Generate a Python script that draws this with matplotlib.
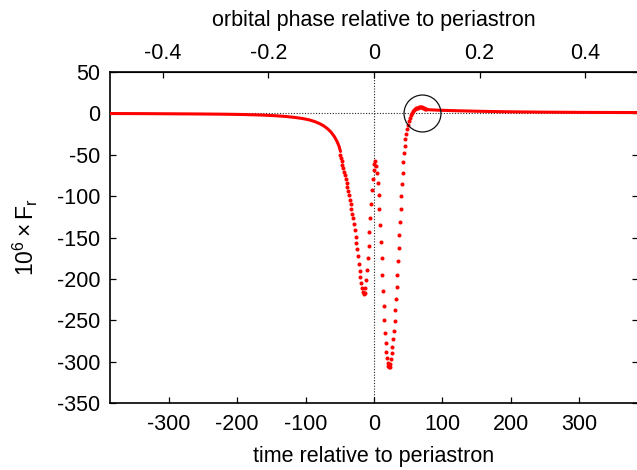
import matplotlib
matplotlib.use("Agg")
import matplotlib.pyplot as plt
import numpy as np

plt.rcParams['font.family'] = ['Liberation Sans', 'DejaVu Sans']
plt.rcParams['mathtext.fontset'] = 'custom'
plt.rcParams['mathtext.rm'] = 'Liberation Sans'
plt.rcParams['mathtext.it'] = 'Liberation Sans'

# orbital period (time units) and time axis range
period = 772.0
t_min, t_max = -386.0, 386.0

# smooth wings of the curve (dots merge into a solid line there)
t_left = [-386, -340, -300, -260, -220, -190, -165, -145, -128, -115, -104,
          -95, -87, -80, -74, -68, -63, -58, -54, -51, -49]
f_left = [-0.2, -0.3, -0.5, -0.7, -1.0, -1.4, -2.0, -2.8, -3.8, -5.0, -6.3,
          -7.8, -9.8, -12.2, -14.8, -18.5, -22.5, -28, -34, -40, -46]

t_right = [76, 80, 85, 90, 100, 120, 150, 180, 220, 260, 300, 340, 386]
f_right = [5.0, 4.4, 4.2, 4.0, 3.7, 3.2, 2.6, 2.1, 1.7, 1.4, 1.2, 1.1, 1.0]

# individual sample points through the periastron passage
t_dots = [-49.8, -48.6, -47.4, -46.2,
          -45.0, -43.8, -42.6, -41.4, -40.2, -39.0, -37.8, -36.6, -35.4, -34.2,
          -33.0, -31.8, -30.6, -29.4, -28.2, -27.0, -25.8, -24.6, -23.4, -22.2,
          -21.0, -19.8, -18.6, -17.4, -16.2, -15.0, -13.8, -12.6, -11.4, -10.2,
          -9.0, -7.8, -6.6, -5.4, -4.2, -3.0, -1.8, -0.6, 0.6, 1.8,
          3.2, 4.4, 5.6, 6.8, 7.9, 9.0, 10.1, 11.2, 12.2, 13.2,
          14.2, 15.1, 16.1, 17.1, 18.1, 19.0, 20.0, 21.0, 22.0, 23.0,
          24.0, 25.0, 26.0, 27.0, 28.0, 29.0, 30.0, 31.0, 32.0, 33.0,
          34.0, 35.0, 36.0, 37.0, 38.0, 39.0, 40.0, 41.0, 42.0, 43.0,
          44.0, 45.0, 46.0, 47.0, 48.0, 49.3, 50.8, 52.2, 53.7, 55.2,
          56.7, 58.2, 59.7, 61.2, 62.7, 64.2, 65.7, 67.2, 68.7, 70.2,
          71.7, 73.2, 74.7, 76.2]
f_dots = [-50, -54, -58, -62,
          -66, -70.5, -75, -79.5, -84, -88.5, -93.5, -99, -104.5, -110,
          -115.5, -121, -127, -134, -141.5, -149, -156.5, -164, -172.5, -181.5,
          -190, -197.5, -205, -211.5, -216, -218.5, -216.5, -210.5, -201, -189,
          -175, -160, -143, -126, -109, -93, -79, -68, -61, -58,
          -63, -72, -84, -99, -116, -135, -155, -175, -195, -214.5,
          -233, -249.5, -265, -278, -288, -296, -302, -305.5, -307, -306,
          -302.5, -297, -290, -282, -273, -263, -251, -238, -224, -210,
          -195, -179, -163, -147, -131, -115, -100, -85, -72, -59,
          -48, -39, -31, -24.5, -19, -14, -9.5, -5.5, -2, 0.8,
          2.8, 4.3, 5.3, 6.0, 6.5, 6.9, 7.2, 7.4, 7.5, 7.4,
          7.0, 6.3, 5.6, 5.0]

phase_ticks = [-0.4, -0.2, 0, 0.2, 0.4]
time_ticks = [-300, -200, -100, 0, 100, 200, 300]
y_ticks = [-350, -300, -250, -200, -150, -100, -50, 0, 50]

fig = plt.figure(figsize=(6.37, 4.70), dpi=100)
ax = fig.add_axes([110 / 637, 1 - 403 / 470, 528 / 637, 331 / 470])

red = '#ff0000'
fs = 15.5
ax.axhline(0, color='#222222', ls=(0, (1, 1.5)), lw=0.8, zorder=1)
ax.axvline(0, color='#222222', ls=(0, (1, 1.5)), lw=0.8, zorder=1)
ax.plot(t_left, f_left, '-', color=red, lw=2.2, zorder=3, solid_capstyle='round')
ax.plot(t_right, f_right, '-', color=red, lw=2.2, zorder=3, solid_capstyle='round')
ax.plot(t_dots, f_dots, 'o', color=red, ms=2.9, mew=0, zorder=3)

# circle marking the small positive bump
ax.plot([69.5], [1.0], 'o', ms=26.6, mfc='none', mec='#111111', mew=0.9, zorder=4)

ax.set_xlim(t_min, t_max)
ax.set_ylim(-350, 50)
ax.set_xticks(time_ticks)
ax.set_yticks(y_ticks)
ax.tick_params(axis='x', direction='in', length=4, width=0.9, top=False,
               labelsize=fs, pad=8)
ax.tick_params(axis='y', direction='in', length=4, width=0.9, right=True,
               labelsize=fs, pad=7)
for s in ax.spines.values():
    s.set_linewidth(1.2)
ax.set_xlabel('time relative to periastron', fontsize=fs, labelpad=8)
ax.set_ylabel(r'10$^{6}\times$F$_{\mathregular{r}}$', fontsize=16.5, labelpad=12)

sec = ax.secondary_xaxis('top', functions=(lambda t: t / period, lambda p: p * period))
sec.set_xticks(phase_ticks)
sec.set_xticklabels(['-0.4', '-0.2', '0', '0.2', '0.4'])
sec.tick_params(direction='in', length=4, width=0.9, labelsize=fs, pad=6)
sec.set_xlabel('orbital phase relative to periastron', fontsize=fs, labelpad=12)
ax.set_xticklabels([str(v) for v in time_ticks])
ax.set_yticklabels([str(v) for v in y_ticks])

fig.savefig('out.png', dpi=100)
